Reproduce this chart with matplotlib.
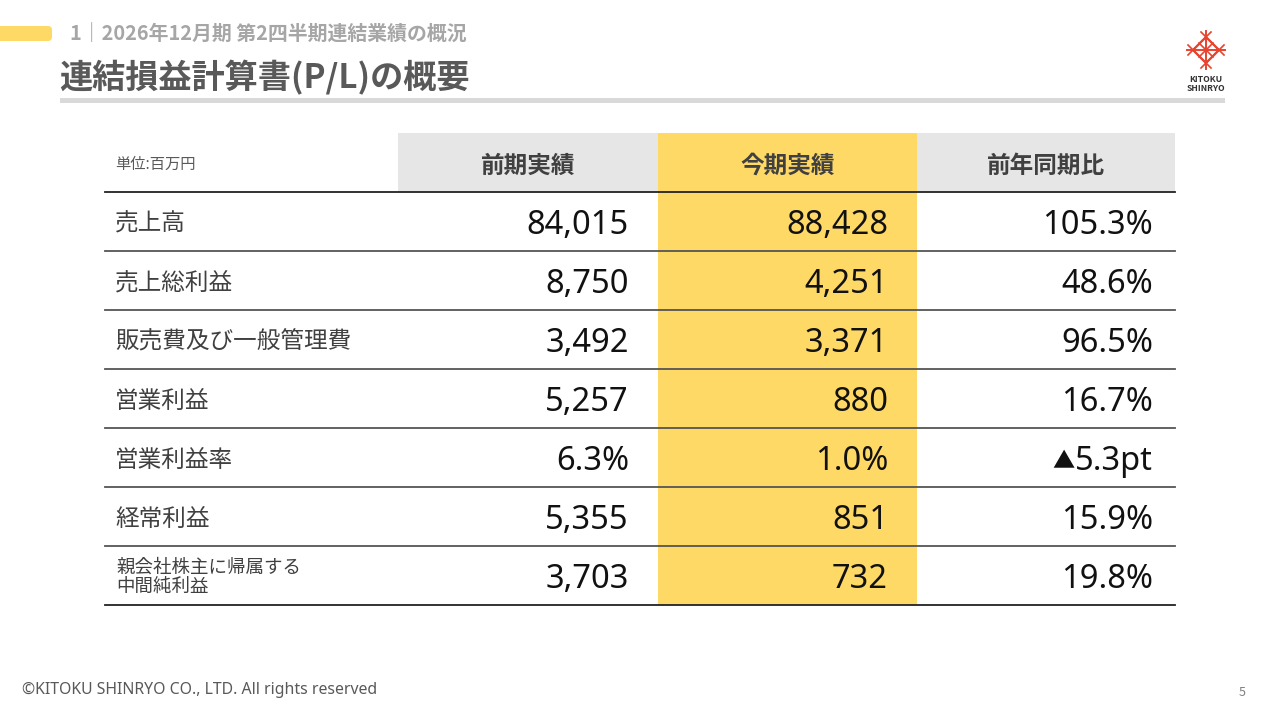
import matplotlib
matplotlib.use("Agg")
import matplotlib.pyplot as plt
from matplotlib.patches import Rectangle, FancyBboxPatch, Polygon

plt.rcParams['font.family'] = ['Noto Sans CJK JP', 'DejaVu Sans']
NUM_FONT = ['Noto Sans', 'Noto Sans CJK JP']

# データ (単位:百万円)
items = ["売上高", "売上総利益", "販売費及び一般管理費", "営業利益", "営業利益率", "経常利益",
         "親会社株主に帰属する\n中間純利益"]
prev_vals = ["84,015", "8,750", "3,492", "5,257", "6.3%", "5,355", "3,703"]
curr_vals = ["88,428", "4,251", "3,371", "880", "1.0%", "851", "732"]
yoy_vals = ["105.3%", "48.6%", "96.5%", "16.7%", "▲5.3pt", "15.9%", "19.8%"]
col_heads = ["前期実績", "今期実績", "前年同期比"]
unit_label = "単位:百万円"

YELLOW = "#FFD966"
GRAY_HEAD = "#E7E6E6"
DARK = "#404040"
RED = "#E8432E"

fig = plt.figure(figsize=(12.8, 7.2), dpi=100)
ax = fig.add_axes([0, 0, 1, 1])
ax.set_xlim(0, 1280)
ax.set_ylim(720, 0)
ax.axis('off')
renderer = fig.canvas.get_renderer()

# ヘッダー部
ax.add_patch(FancyBboxPatch((-10, 26), 62, 15, boxstyle="round,pad=0,rounding_size=4",
                            fc=YELLOW, ec="none"))
ax.text(70, 34, "1｜2026年12月期 第2四半期連結業績の概況", fontsize=14.3, fontweight='bold',
        color="#A6A6A6", va='center', ha='left')
ax.text(59, 78, "連結損益計算書(P/L)の概要", fontsize=23.9, fontweight='bold',
        color="#595959", va='center', ha='left')
ax.add_patch(Rectangle((60, 98), 1165, 5, fc="#D9D9D9", ec="none"))

# ロゴ
cx, cy, r = 1206, 50, 13
ax.add_patch(Polygon([(cx, cy - r), (cx + r, cy), (cx, cy + r), (cx - r, cy)],
                     closed=True, fill=False, ec=RED, lw=1.6))
ax.plot([cx, cx], [cy - 19, cy + 19], color=RED, lw=1.4)
ax.plot([cx - 19, cx + 19], [cy, cy], color=RED, lw=1.4)
ax.plot([cx - 7, cx + 7], [cy - 7, cy + 7], color=RED, lw=1.2)
ax.plot([cx - 7, cx + 7], [cy + 7, cy - 7], color=RED, lw=1.2)
for px, py in [(cx, cy - r), (cx + r, cy), (cx, cy + r), (cx - r, cy)]:
    ax.plot([px - 5, px + 5], [py - 5, py + 5], color=RED, lw=1.2)
    ax.plot([px - 5, px + 5], [py + 5, py - 5], color=RED, lw=1.2)
ax.text(cx, 80, "KITOKU", fontsize=6.2, fontweight='bold', color="#333333", ha='center', va='center')
ax.text(cx, 88.5, "SHINRYO", fontsize=6.2, fontweight='bold', color="#333333", ha='center', va='center')

# 表
x_edges = [105, 398, 658, 917, 1175]
head_top, head_bot = 133, 192
row_h = 59

ax.add_patch(Rectangle((x_edges[1], head_top), x_edges[2] - x_edges[1], head_bot - head_top,
                       fc=GRAY_HEAD, ec="none"))
ax.add_patch(Rectangle((x_edges[3], head_top), x_edges[4] - x_edges[3], head_bot - head_top,
                       fc=GRAY_HEAD, ec="none"))
table_bot = head_bot + row_h * len(items)
ax.add_patch(Rectangle((x_edges[2], head_top), x_edges[3] - x_edges[2], table_bot - head_top,
                       fc=YELLOW, ec="none"))

ax.text(115, 164, unit_label, fontsize=11, color="#595959", va='center', ha='left')
for i, h in enumerate(col_heads):
    ax.text((x_edges[i + 1] + x_edges[i + 2]) / 2, 166, h, fontsize=17, fontweight='bold',
            color=DARK, ha='center', va='center')

ax.plot([x_edges[0], x_edges[-1]], [head_bot, head_bot], color="#222222", lw=1.3)
for i, name in enumerate(items):
    yc = head_bot + row_h * i + row_h / 2
    if "\n" in name:
        ax.text(116, yc + 2, name, fontsize=13.3, color="#404040", va='center', ha='left',
                linespacing=1.1)
    else:
        ax.text(115, yc + 3, name, fontsize=17, color="#404040", va='center', ha='left')
    for j, vals in enumerate([prev_vals, curr_vals, yoy_vals]):
        pad = 29 if j < 2 else 22
        v = vals[i]
        if v.startswith("▲"):
            t = ax.text(x_edges[j + 2] - pad, yc + 4, v[1:], fontsize=23.5, color="#111111",
                        va='center', ha='right', family=NUM_FONT)
            w = t.get_window_extent(renderer).width
            ax.text(x_edges[j + 2] - pad - w - 1, yc + 5, "▲", fontsize=16, color="#111111",
                    va='center', ha='right', family=NUM_FONT)
        else:
            ax.text(x_edges[j + 2] - pad, yc + 4, v, fontsize=23.5, color="#111111",
                    va='center', ha='right', family=NUM_FONT)
    yl = head_bot + row_h * (i + 1)
    ax.plot([x_edges[0], x_edges[-1]], [yl, yl], color="#222222" if i == len(items) - 1 else "#555555",
            lw=1.3)

# フッター
ax.text(22, 690, "©KITOKU SHINRYO CO., LTD. All rights reserved", fontsize=11.4,
        color="#595959", va='center', ha='left', family=NUM_FONT)
ax.text(1242, 693, "5", fontsize=9, color="#7F7F7F", va='center', ha='center')

fig.savefig("out.png", dpi=100)
